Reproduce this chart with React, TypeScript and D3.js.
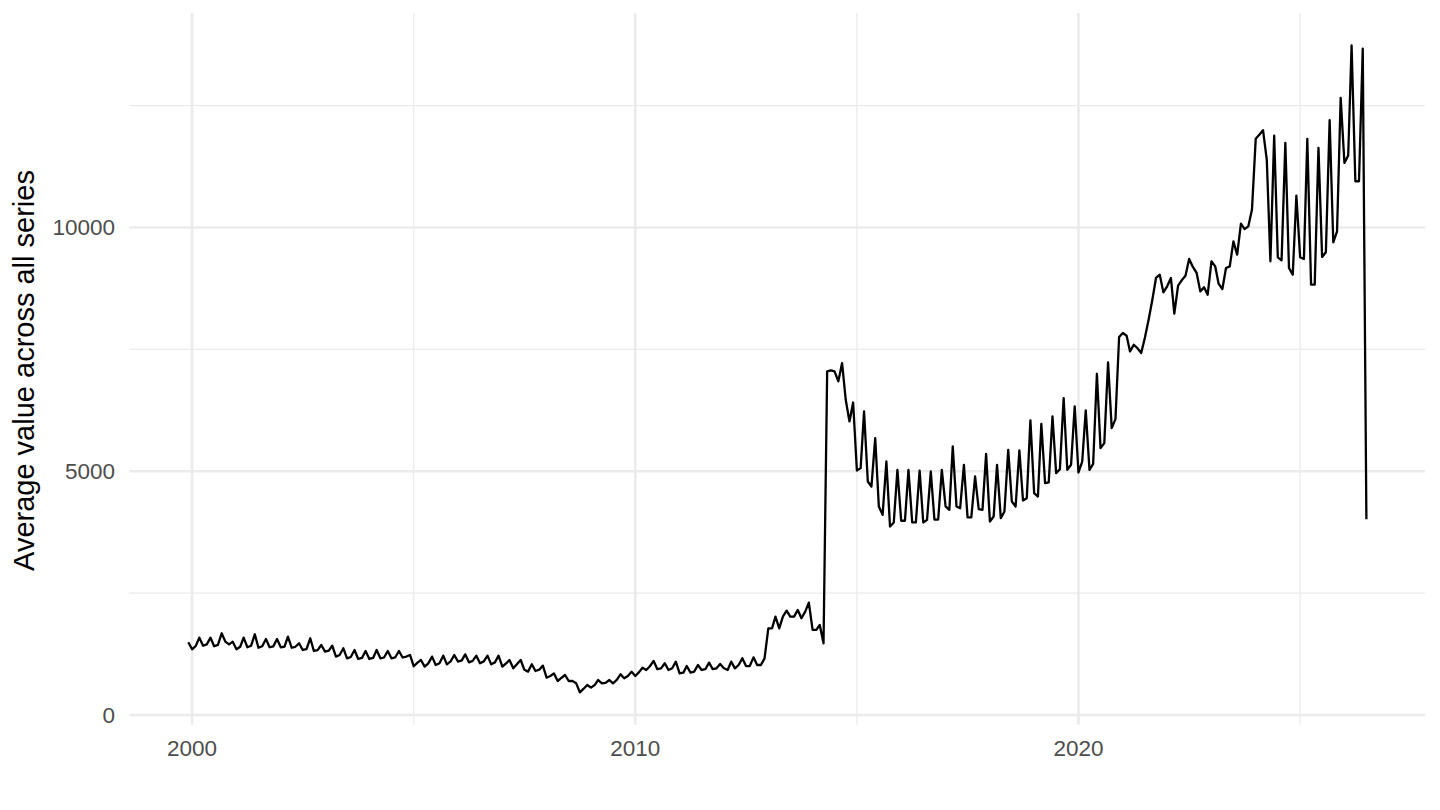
import React from "react";
import * as d3 from "d3";

// monthly averages, first point is Dec 1999
const startMonth = new Date(1999, 11, 1);
const avgValue: number[] = [
  1492,
  // 2000
  1348, 1420, 1587, 1420, 1450, 1587, 1410, 1440, 1677, 1505, 1450, 1505,
  // 2001
  1348, 1400, 1587, 1390, 1420, 1656, 1380, 1410, 1560, 1390, 1410, 1560,
  // 2002
  1390, 1405, 1608, 1380, 1400, 1471, 1334, 1350, 1574, 1314, 1330, 1437,
  // 2003
  1300, 1320, 1423, 1198, 1230, 1369, 1163, 1190, 1334, 1150, 1170, 1314,
  // 2004
  1150, 1170, 1334, 1163, 1180, 1314, 1163, 1180, 1314, 1180, 1200, 1232,
  // 2005
  1000, 1075, 1129, 992, 1060, 1198, 1026, 1061, 1218, 1040, 1100, 1232,
  // 2006
  1095, 1120, 1245, 1081, 1110, 1218, 1061, 1100, 1218, 1040, 1080, 1218,
  // 2007
  992, 1060, 1129, 958, 1040, 1129, 930, 890, 1040, 903, 930, 1013,
  // 2008
  766, 800, 855, 698, 760, 821, 698, 698, 650, 465, 540, 616,
  // 2009
  561, 620, 718, 650, 660, 718, 650, 720, 835, 753, 800, 890,
  // 2010
  801, 880, 970, 924, 1000, 1110, 940, 958, 1061, 924, 958, 1095,
  // 2011
  855, 870, 1005, 870, 890, 1026, 924, 940, 1075, 940, 958, 1047,
  // 2012
  958, 924, 1095, 958, 1026, 1163, 1005, 1005, 1183, 1026, 1026, 1163,
  // 2013
  1779, 1779, 2019, 1779, 2019, 2142, 2019, 2019, 2156, 1985, 2122, 2306,
  // 2014
  1745, 1745, 1848, 1471, 7050, 7070, 7050, 6844, 7220, 6467, 6022, 6410,
  // 2015
  5015, 5064, 6227, 4790, 4687, 5680, 4278, 4106, 5201, 3867, 3950, 5030,
  // 2016
  3985, 3985, 5030, 3950, 3950, 5015, 3950, 4004, 4995, 4010, 4010, 5030,
  // 2017
  4278, 4209, 5509, 4278, 4243, 5133, 4055, 4055, 4893, 4226, 4209, 5358,
  // 2018
  3969, 4072, 5133, 4037, 4174, 5440, 4380, 4277, 5427, 4400, 4448, 6043,
  // 2019
  4550, 4482, 5974, 4756, 4770, 6125, 4961, 5044, 6502, 5030, 5133, 6331,
  // 2020
  4975, 5200, 6248, 5030, 5150, 7000, 5475, 5578, 7233, 5885, 6070, 7754,
  // 2021
  7836, 7781, 7459, 7596, 7527, 7425, 7733, 8109, 8520, 8965, 9033, 8670,
  // 2022
  8794, 8965, 8233, 8807, 8917, 9012, 9355, 9191, 9068, 8690, 8773, 8622,
  // 2023
  9307, 9204, 8848, 8739, 9170, 9204, 9717, 9444, 10080, 9969, 10025, 10368,
  // 2024
  11819, 11907, 11996, 11394, 9307, 11887, 9389, 9328, 11736, 9171, 9033, 10655,
  // 2025
  9389, 9355, 11819, 8828, 8828, 11634, 9396, 9492, 12202, 9697, 9923, 12660,
  // 2026
  11326, 11477, 13735, 10949, 10949, 13667, 4017,
];

const xMajorYears = [2000, 2010, 2020];
const xMinorYears = [2005, 2015, 2025];
const yMajorTicks = [0, 5000, 10000];
const yMinorTicks = [2500, 7500, 12500];
const yTitle = "Average value across all series";

const W = 1440;
const H = 810;
const panel = { left: 129.4, right: 1425.3, top: 13.1, bottom: 724.7 };
const FONT = "'Liberation Sans', Arial, Helvetica, sans-serif";
const GRID = "#EBEBEB";

// ggplot style 5% expansion
function expand(lo: number, hi: number) {
  const pad = (hi - lo) * 0.05;
  return [lo - pad, hi + pad];
}

const App = () => {
  const data = avgValue.map((v, i) => ({ date: d3.timeMonth.offset(startMonth, i), value: v }));

  const tExt = d3.extent(data, (d) => +d.date) as [number, number];
  const [t0, t1] = expand(tExt[0], tExt[1]);
  const x = d3
    .scaleTime()
    .domain([new Date(t0), new Date(t1)])
    .range([panel.left, panel.right]);

  const vExt = d3.extent(data, (d) => d.value) as [number, number];
  const y = d3.scaleLinear().domain(expand(vExt[0], vExt[1])).range([panel.bottom, panel.top]);

  const line = d3
    .line<{ date: Date; value: number }>()
    .x((d) => x(d.date))
    .y((d) => y(d.value));

  const yearX = (yr: number) => x(new Date(yr, 0, 1));

  return (
    <svg
      width={W}
      height={H}
      style={{ position: "absolute", left: 0, top: 0, background: "#fff", fontFamily: FONT }}
    >
      {/* minor grid */}
      {yMinorTicks.map((t) => (
        <line key={"ym" + t} x1={panel.left} x2={panel.right} y1={y(t)} y2={y(t)} stroke={GRID} strokeWidth={1.3} />
      ))}
      {xMinorYears.map((yr) => (
        <line key={"xm" + yr} x1={yearX(yr)} x2={yearX(yr)} y1={panel.top} y2={panel.bottom} stroke={GRID} strokeWidth={1.3} />
      ))}
      {/* major grid */}
      {yMajorTicks.map((t) => (
        <line key={"yM" + t} x1={panel.left} x2={panel.right} y1={y(t)} y2={y(t)} stroke={GRID} strokeWidth={2.6} />
      ))}
      {xMajorYears.map((yr) => (
        <line key={"xM" + yr} x1={yearX(yr)} x2={yearX(yr)} y1={panel.top} y2={panel.bottom} stroke={GRID} strokeWidth={2.6} />
      ))}

      <path
        d={line(data) || ""}
        fill="none"
        stroke="#000"
        strokeWidth={2.3}
        strokeLinejoin="round"
        strokeLinecap="butt"
      />

      {/* y tick labels */}
      {yMajorTicks.map((t) => (
        <text
          key={"yl" + t}
          x={115}
          y={y(t)}
          textAnchor="end"
          dominantBaseline="central"
          fontSize={22.5}
          fill="#4D4D4D"
        >
          {t}
        </text>
      ))}
      {/* x tick labels */}
      {xMajorYears.map((yr) => (
        <text key={"xl" + yr} x={yearX(yr)} y={755.7} textAnchor="middle" fontSize={22.5} fill="#4D4D4D">
          {yr}
        </text>
      ))}

      <text
        transform="translate(33.5, 370.5) rotate(-90)"
        textAnchor="middle"
        fontSize={29}
        fill="#000"
      >
        {yTitle}
      </text>
    </svg>
  );
};

export default App;
